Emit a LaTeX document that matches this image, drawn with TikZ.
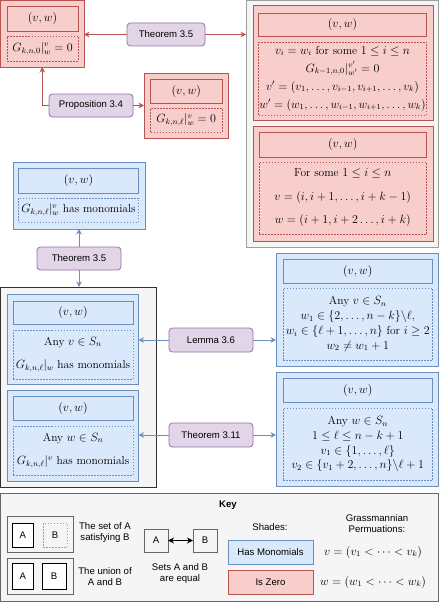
\documentclass[tikz,border=0pt]{standalone}
\usepackage{fontspec}
\newfontfamily\hv{Liberation Sans}
\usetikzlibrary{arrows.meta}
\definecolor{rfill}{HTML}{F8CECC}
\definecolor{rdraw}{HTML}{B85450}
\definecolor{bfill}{HTML}{DAE8FC}
\definecolor{bdraw}{HTML}{6C8EBF}
\definecolor{pfill}{HTML}{E1D5E7}
\definecolor{pdraw}{HTML}{9673A6}
\definecolor{gfill}{HTML}{F5F5F5}
\definecolor{gdraw}{HTML}{9E9E9E}
\definecolor{kdraw}{HTML}{666666}
\definecolor{bkdraw}{HTML}{333333}
\newcommand\bx[7]{\node[#1, anchor=north west, inner sep=0pt, outer sep=0pt,
  minimum width={#5-#3}, minimum height={#6-#4}, align=center] (#2) at (#3,#4) {#7};}
\tikzset{
  every node/.style={font=\fontsize{11.5}{14}\selectfont},
  redbox/.style={draw=rdraw, fill=rfill, line width=0.8pt},
  reddash/.style={draw=rdraw, fill=rfill, line width=0.6pt, dash pattern=on 1.5pt off 1.5pt},
  bluebox/.style={draw=bdraw, fill=bfill, line width=0.8pt},
  bluedash/.style={draw=bdraw, fill=bfill, line width=0.6pt, dash pattern=on 1.5pt off 1.5pt},
  graybox/.style={draw=gdraw, fill=gfill, line width=0.8pt},
  blackbox/.style={draw=bkdraw, fill=gfill, line width=0.8pt},
  keybox/.style={draw=kdraw, fill=gfill, line width=0.8pt},
  lab/.style={draw=pdraw, fill=pfill, line width=0.8pt, rounded corners=3.5pt,
    font=\hv\fontsize{9.6}{11}\selectfont},
  sans/.style={font=\hv\fontsize{9.6}{11}\selectfont, align=center},
  rarr/.style={draw=rdraw, line width=0.9pt, -{Stealth[length=5.5pt,width=5.5pt]}},
  barr/.style={draw=bdraw, line width=0.9pt, -{Stealth[length=5.5pt,width=5.5pt]}},
  karr/.style={draw=black, line width=1.2pt, {Stealth[length=6pt,width=6pt]}-{Stealth[length=6pt,width=6pt]}},
  lines14/.style={font=\fontsize{11.5}{14.8}\selectfont},
  lines18/.style={font=\fontsize{11.5}{18}\selectfont},
  lines23/.style={font=\fontsize{11.5}{23.5}\selectfont},
}
\begin{document}
\begin{tikzpicture}[x=1pt,y=-1pt]
\useasboundingbox (0,0) rectangle (439,602);
% ---------------- red group top-left
\bx{redbox}{red1}{0.5}{0.5}{84}{67}{}
\bx{redbox}{red1a}{7}{6}{78}{31}{$(v,w)$}
\bx{reddash}{red1b}{7}{36}{78}{61}{$G_{k,n,0}|^{v}_{w}=0$}
\bx{redbox}{red2}{144}{73}{228}{138}{}
\bx{redbox}{red2a}{150.5}{79}{222}{103}{$(v,w)$}
\bx{reddash}{red2b}{150.5}{108}{222}{132}{$G_{k,n,\ell}|^{v}_{w}=0$}
% ---------------- gray group right
\bx{graybox}{gray}{246}{0.5}{438}{247}{}
\bx{redbox}{red3}{253}{5}{433}{120}{}
\bx{redbox}{red3a}{258.5}{13}{426.5}{36}{$(v,w)$}
\bx{reddash, lines18}{red3b}{258.5}{42}{426.5}{115}{$v_i=w_i$ for some $1\le i\le n$\\
  $G_{k-1,n,0}|^{v'}_{w'}=0$\\
  $v'=(v_1,\dots,v_{i-1},v_{i+1},\dots,v_k)$\\
  $w'=(w_1,\dots,w_{i-1},w_{i+1},\dots,w_k)$}
\bx{redbox}{red4}{253}{126}{433}{241}{}
\bx{redbox}{red4a}{259}{132}{426.5}{157}{$(v,w)$}
\bx{reddash, lines23}{red4b}{259}{162}{426.5}{234}{For some $1\le i\le n$\\
  $v=(i,i+1,\dots,i+k-1)$\\
  $w=(i+1,i+2\dots,i+k)$}
% ---------------- blue top-left
\bx{bluebox}{blue1}{13}{162}{145}{229}{}
\bx{bluebox}{blue1a}{18.5}{168}{138.5}{193}{$(v,w)$}
\bx{bluedash}{blue1b}{18.5}{198}{138.5}{222}{$G_{k,n,\ell}|^{v}_{w}$ has monomials}
% ---------------- black group
\bx{blackbox}{black}{0.5}{287}{156}{487}{}
\bx{bluebox}{blueA}{7}{294}{138.5}{384.5}{}
\bx{bluebox}{blueAa}{13}{301}{133}{324.5}{$(v,w)$}
\bx{bluedash, lines23}{blueAb}{13}{330}{133}{379}{Any $v\in S_n$\\ $G_{k,n,\ell}|_{w}$ has monomials}
\bx{bluebox}{blueB}{7}{390.5}{138.5}{481}{}
\bx{bluebox}{blueBa}{13}{396.5}{133}{420.5}{$(v,w)$}
\bx{bluedash, lines23}{blueBb}{13}{426}{133}{475}{Any $w\in S_n$\\ $G_{k,n,\ell}|^{v}$ has monomials}
% ---------------- blue right
\bx{bluebox}{R1}{276}{253}{438}{366}{}
\bx{bluebox}{R1a}{283}{259}{432.5}{283}{$(v,w)$}
\bx{bluedash, lines14}{R1b}{283}{288}{432.5}{360}{Any $v\in S_n$\\
  $w_1\in\{2,\dots,n-k\}\backslash\ell$,\\
  $w_i\in\{\ell+1,\dots,n\}$ for $i\ge 2$\\
  $w_2\ne w_1+1$}
\bx{bluebox}{R2}{276}{372}{438}{486}{}
\bx{bluebox}{R2a}{283}{378}{432.5}{402}{$(v,w)$}
\bx{bluedash, lines14}{R2b}{283}{408}{432.5}{480}{Any $w\in S_n$\\
  $1\le\ell\le n-k+1$\\
  $v_1\in\{1,\dots,\ell\}$\\
  $v_2\in\{v_1+2,\dots,n\}\backslash\ell+1$}
% ---------------- labels
\bx{lab}{t35a}{127}{23}{205}{46}{Theorem 3.5}
\bx{lab}{p34}{49}{94}{133}{117}{Proposition 3.4}
\bx{lab}{t35b}{37}{247}{121}{270}{Theorem 3.5}
\bx{lab}{l36}{169}{328}{253}{352}{Lemma 3.6}
\bx{lab}{t311}{169}{423}{253}{447}{Theorem 3.11}
% ---------------- connectors
\draw[rarr] (t35a.west) -- (t35a.west -| red1.east);
\draw[rarr] (t35a.east) -- (t35a.east -| gray.west);
\draw[rarr] (p34.west) -| (red1.south);
\draw[rarr] (p34.east) -- (p34.east -| red2.west);
\draw[barr] (t35b.north) -- (blue1.south);
\draw[barr] (t35b.south) -- (t35b.south |- black.north);
\draw[barr] (l36.west) -- (l36.west -| blueA.east);
\draw[barr] (l36.east) -- (l36.east -| R1.west);
\draw[barr] (t311.west) -- (t311.west -| blueB.east);
\draw[barr] (t311.east) -- (t311.east -| R2.west);
% ---------------- key
\bx{keybox}{key}{0.5}{493}{438}{601.5}{}
\node[font=\hv\bfseries\fontsize{9.6}{11}\selectfont] (keyt) at (228,505) {Key};
\bx{keybox}{kset}{7}{516}{73}{552}{}
\bx{draw=black, fill=white, line width=0.8pt, sans}{kA1}{12}{523}{33.5}{547}{A}
\bx{draw=gdraw, fill=gfill, line width=0.7pt, dash pattern=on 1.5pt off 1.5pt, sans}{kB1}{43}{523}{67}{547}{B}
\node[sans] (kt1) at (105,533) {The set of A\\satisfying B};
\bx{keybox}{kuni}{7}{558}{73}{594}{}
\bx{draw=black, fill=white, line width=0.8pt, sans}{kA2}{12}{563}{33.5}{589}{A}
\bx{draw=black, fill=white, line width=0.8pt, sans}{kB2}{42}{563}{66}{589}{B}
\node[sans] (kt2) at (105,577) {The union of\\A and B};
\bx{keybox, sans}{kA3}{144}{529}{168}{552}{A}
\bx{keybox, sans}{kB3}{193}{529}{217}{552}{B}
\draw[karr] (kA3.east) -- (kB3.west);
\node[sans] (kt3) at (180,573.5) {Sets A and B\\are equal};
\node[sans] (kt4) at (270,527) {Shades:};
\node[sans] (kt5) at (377,524) {Grassmannian\\Permuations:};
\bx{bluebox, sans}{khm}{228}{540}{313}{564}{Has Monomials}
\bx{redbox, sans}{kiz}{228}{570}{313}{594}{Is Zero}
\node (kv) at (373,552) {$v=(v_1<\cdots<v_k)$};
\node (kw) at (373,582) {$w=(w_1<\cdots<w_k)$};
\end{tikzpicture}
\end{document}
